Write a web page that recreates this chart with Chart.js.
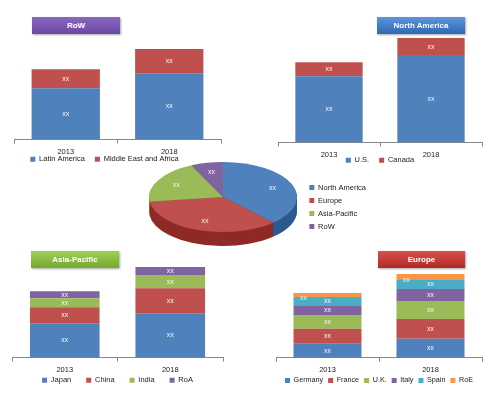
<!DOCTYPE html>
<html>
<head>
<meta charset="utf-8">
<script src="https://cdn.jsdelivr.net/npm/chart.js@4.4.0/dist/chart.umd.min.js"></script>
<style>
  html, body { margin: 0; padding: 0; background: #fff; }
  #wrap { position: relative; width: 500px; height: 393px; overflow: hidden; }
  canvas { position: absolute; }
  .tag {
    position: absolute; height: 17px; text-align: center;
    color: #fff; font: bold 8px "Liberation Sans", Arial, sans-serif;
    line-height: 17px;
    box-shadow: 1px 1px 2px rgba(0,0,0,0.35);
  }
</style>
</head>
<body>
<div id="wrap">
  <canvas id="row" width="235" height="148" style="left:0px;top:40px"></canvas>
  <canvas id="na" width="236" height="166" style="left:264px;top:25px"></canvas>
  <canvas id="apac" width="235" height="156" style="left:0px;top:255px"></canvas>
  <canvas id="eu" width="238" height="146" style="left:262px;top:255px"></canvas>
  <canvas id="pie" width="236" height="102" style="left:140px;top:156px"></canvas>

  <div class="tag" style="left:32px;top:17px;width:88px;background:linear-gradient(#8a68c0,#6b47a6);">RoW</div>
  <div class="tag" style="left:377px;top:17px;width:88px;background:linear-gradient(#5b95dc,#2f68b5);">North America</div>
  <div class="tag" style="left:31px;top:251px;width:88px;background:linear-gradient(#9fd055,#74a92e);">Asia-Pacific</div>
  <div class="tag" style="left:378px;top:251px;width:87px;background:linear-gradient(#d9504a,#b02a26);">Europe</div>
</div>
<script>
/* Data: segment heights are unlabelled in the source ("xx") */
const years = ["2013", "2018"];

const rowLatinAmerica = [51, 66];
const rowMiddleEastAfrica = [19, 24];

const naUS = [66, 87];
const naCanada = [14, 17];

const apJapan = [34, 44];
const apChina = [16, 25];
const apIndia = [9, 13];
const apRoA = [7, 8];

const euGermany = [14, 19];
const euFrance = [15, 20];
const euUK = [14, 18];
const euItaly = [9, 12];
const euSpain = [9, 9];
const euRoE = [4, 6];

const regions = ["North America", "Europe", "Asia-Pacific", "RoW"];
const regionShare = [38, 35, 20, 7];

const BLUE = "#4f81bd", RED = "#c0504d", GREEN = "#9bbb59",
      PURPLE = "#8064a2", CYAN = "#4bacc6", ORANGE = "#f79646";

Chart.defaults.font.family = '"Liberation Sans", Arial, sans-serif';
Chart.defaults.font.size = 7.5;
Chart.defaults.color = "#222";

/* white "xx" in each bar segment */
const xxLabels = {
  id: "xxLabels",
  afterDatasetsDraw(chart) {
    const ctx = chart.ctx;
    ctx.save();
    ctx.font = '7px "Liberation Sans", Arial, sans-serif';
    ctx.fillStyle = "#f4f4f4";
    ctx.textAlign = "center";
    ctx.textBaseline = "middle";
    chart.data.datasets.forEach((ds, i) => {
      chart.getDatasetMeta(i).data.forEach(bar => {
        let x = bar.x, y = (bar.y + bar.base) / 2;
        if (ds.shiftLabel) { x = bar.x - bar.width / 2 + 10; y += 3; }
        ctx.fillText("xx", x, y);
      });
    });
    ctx.restore();
  }
};

/* pull the legend up against the year labels (and sideways if asked) */
function legendNudge(dx, dy) {
  return {
    id: "legendNudge",
    afterLayout(chart) {
      const l = chart.legend;
      l.left += dx; l.right += dx;
      l.top += dy; l.bottom += dy;
    }
  };
}

function stacked(id, series, yMax, padL, padR, legendPad, legendFont, dx, dy) {
  new Chart(document.getElementById(id), {
    type: "bar",
    data: {
      labels: years,
      datasets: series.map(s => ({
        label: s[0], data: s[1], backgroundColor: s[2], borderWidth: 0,
        shiftLabel: !!s[3],
        categoryPercentage: 1, barPercentage: 0.66
      }))
    },
    options: {
      responsive: false,
      animation: false,
      layout: { padding: { left: padL, right: padR, top: 5, bottom: 0 } },
      plugins: {
        tooltip: { enabled: false },
        legend: {
          position: "bottom",
          labels: { boxWidth: 5, boxHeight: 5, padding: legendPad, font: { size: legendFont }, color: "#222" }
        }
      },
      scales: {
        x: {
          stacked: true,
          grid: { display: true, drawOnChartArea: false, tickLength: 4, color: "#888" },
          border: { color: "#888" },
          ticks: { padding: 4, font: { size: 7.5 }, color: "#222" }
        },
        y: { stacked: true, display: false, min: 0, max: yMax }
      }
    },
    plugins: [xxLabels, legendNudge(dx, dy)]
  });
}

stacked("row", [
  ["Latin America", rowLatinAmerica, BLUE],
  ["Middle East and Africa", rowMiddleEastAfrica, RED]
], 94, 14, 14, 10, 7.5, -13, -15);

stacked("na", [
  ["U.S.", naUS, BLUE],
  ["Canada", naCanada, RED]
], 112, 14, 18, 10, 7.5, 0, -17);

stacked("apac", [
  ["Japan", apJapan, BLUE],
  ["China", apChina, RED],
  ["India", apIndia, GREEN],
  ["RoA", apRoA, PURPLE]
], 97, 12, 12, 15, 7.5, 0, -17);

stacked("eu", [
  ["Germany", euGermany, BLUE],
  ["France", euFrance, RED],
  ["U.K.", euUK, GREEN],
  ["Italy", euItaly, PURPLE],
  ["Spain", euSpain, CYAN],
  ["RoE", euRoE, ORANGE, true]
], 98, 14, 18, 5, 7.2, 0, -7);

/* tilted pie: top face squashed into an ellipse, darker side drawn below */
const PIE_CX = 223 - 140, PIE_CY = 197 - 156, PIE_RX = 74, PIE_RY = 35, PIE_DEPTH = 14;
const sideColors = ["#2c5a8f", "#8e2a27", "#6f8c35", "#5a437a"];

const pie3d = {
  id: "pie3d",
  beforeDatasetsDraw(chart) {
    const ctx = chart.ctx;
    const arcs = chart.getDatasetMeta(0).data;
    const R = arcs[0].outerRadius, ox = arcs[0].x, oy = arcs[0].y;
    ctx.save();
    ctx.translate(PIE_CX, PIE_CY);
    ctx.scale(PIE_RX / R, PIE_RY / R);
    ctx.translate(-ox, -oy);
    for (let d = PIE_DEPTH; d > 0; d--) {
      const off = d * R / PIE_RY;
      arcs.forEach((arc, i) => {
        ctx.beginPath();
        ctx.moveTo(ox, oy + off);
        ctx.arc(ox, oy + off, R, arc.startAngle, arc.endAngle);
        ctx.closePath();
        ctx.fillStyle = sideColors[i];
        ctx.fill();
      });
    }
  },
  afterDatasetsDraw(chart) {
    const ctx = chart.ctx;
    ctx.restore();
    const arcs = chart.getDatasetMeta(0).data;
    ctx.save();
    ctx.font = '7px "Liberation Sans", Arial, sans-serif';
    ctx.fillStyle = "#f4f4f4";
    ctx.textAlign = "center";
    ctx.textBaseline = "middle";
    arcs.forEach(arc => {
      const mid = (arc.startAngle + arc.endAngle) / 2;
      ctx.fillText("xx", PIE_CX + Math.cos(mid) * PIE_RX * 0.72, PIE_CY + Math.sin(mid) * PIE_RY * 0.72);
    });
    ctx.restore();
  }
};

new Chart(document.getElementById("pie"), {
  type: "pie",
  data: {
    labels: regions,
    datasets: [{
      data: regionShare,
      backgroundColor: [BLUE, RED, GREEN, PURPLE],
      borderWidth: 0,
      clip: false
    }]
  },
  options: {
    responsive: false,
    animation: false,
    plugins: {
      tooltip: { enabled: false },
      legend: {
        position: "right",
        labels: { boxWidth: 5, boxHeight: 5, padding: 5.5, font: { size: 7.5 }, color: "#222" }
      }
    }
  },
  plugins: [pie3d]
});
</script>
</body>
</html>
